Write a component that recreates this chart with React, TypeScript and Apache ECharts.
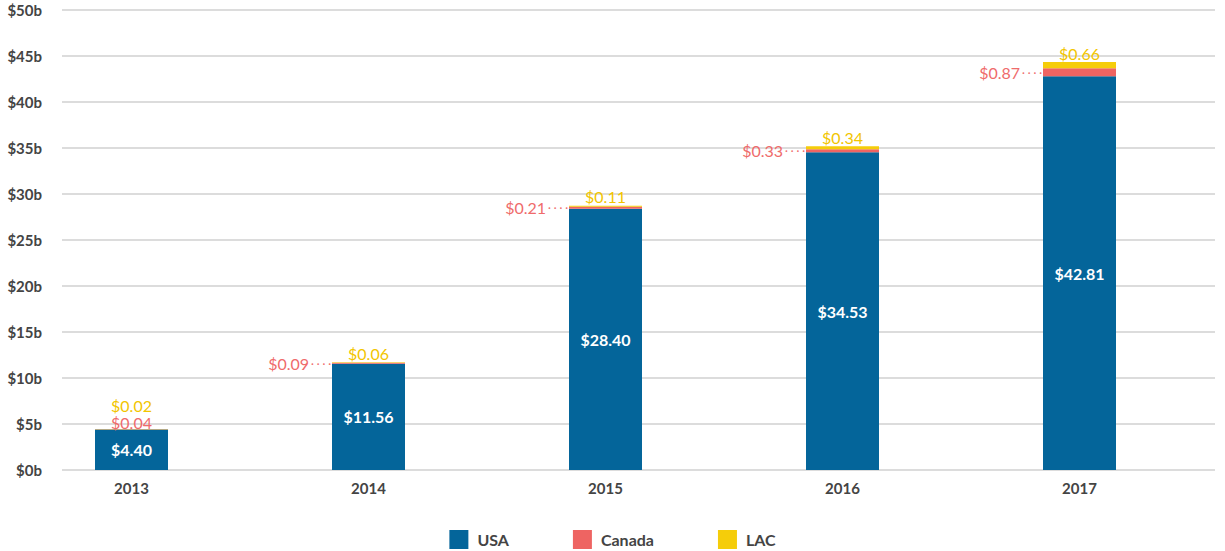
import React, { useEffect, useRef } from "react";
import * as echarts from "echarts";

const years = ["2013", "2014", "2015", "2016", "2017"];
const usa = [4.4, 11.56, 28.4, 34.53, 42.81];
const canada = [0.04, 0.09, 0.21, 0.33, 0.87];
const lac = [0.02, 0.06, 0.11, 0.34, 0.66];
const yTicks = [0, 5, 10, 15, 20, 25, 30, 35, 40, 45, 50];

const BLUE = "#04659A";
const RED = "#EE6462";
const YELLOW = "#F5CD0A";
const RED_TXT = "#EF6B6B";
const YEL_TXT = "#F2C500";
const FONT = "Lato";

export default function App() {
  const ref = useRef<HTMLDivElement>(null);
  useEffect(() => {
    if (!ref.current) return;
    const chart = echarts.init(ref.current, undefined, { renderer: "svg" });
    const fmt = (v: number) => "$" + v.toFixed(2);
    const option = {
      animation: false,
      textStyle: { fontFamily: FONT },
      grid: [
        { left: 62, right: 10, top: 10, bottom: 81 },
        { left: 13, right: 27, top: 10, bottom: 81 },
      ],
      legend: {
        top: 525,
        left: "center",
        icon: "rect",
        itemWidth: 19,
        itemHeight: 19,
        itemGap: 64,
        textStyle: {
          fontFamily: FONT,
          fontSize: 16,
          fontWeight: "bold",
          color: "#444",
          padding: [0, 0, 0, 4],
        },
        data: ["USA", "Canada", "LAC"],
      },
      xAxis: [
        { type: "category", gridIndex: 0, data: years, show: false },
        {
          type: "category",
          gridIndex: 1,
          data: years,
          axisLine: { show: false },
          axisTick: { show: false },
          axisLabel: { margin: 10, fontFamily: FONT, fontSize: 15, fontWeight: "bold", color: "#444" },
        },
      ],
      yAxis: [
        {
          type: "value",
          gridIndex: 0,
          min: yTicks[0],
          max: yTicks[yTicks.length - 1],
          interval: 5,
          axisLine: { show: false },
          axisTick: { show: false },
          axisLabel: {
            margin: 20,
            fontFamily: FONT,
            fontSize: 15,
            fontWeight: "bold",
            color: "#444",
            formatter: (v: number) => "$" + v + "b",
          },
          splitLine: { lineStyle: { color: "#d0d0d0", width: 1.5 } },
        },
        {
          type: "value",
          gridIndex: 1,
          min: 0,
          max: 50,
          show: false,
          splitLine: { show: false },
        },
      ],
      series: [
        {
          name: "USA",
          type: "bar",
          xAxisIndex: 1,
          yAxisIndex: 1,
          stack: "total",
          barWidth: 73,
          itemStyle: { color: BLUE },
          label: {
            show: true,
            position: "inside",
            color: "#fff",
            fontFamily: FONT,
            fontSize: 16,
            fontWeight: "bold",
            formatter: (p: any) => fmt(p.value),
          },
          data: usa,
        },
        {
          name: "Canada",
          type: "bar",
          xAxisIndex: 1,
          yAxisIndex: 1,
          stack: "total",
          barWidth: 73,
          itemStyle: { color: RED },
          label: {
            show: true,
            position: "left",
            distance: 1,
            color: RED_TXT,
            fontFamily: FONT,
            fontSize: 16,
            formatter: (p: any) => "{t|" + fmt(p.value) + "}{d|· · · ·}",
            rich: {
              t: { color: RED_TXT, fontFamily: FONT, fontSize: 16 },
              d: { color: RED_TXT, fontFamily: FONT, fontSize: 11, padding: [0, 0, 0, 2] },
            },
          },
          data: canada.map((v, i) =>
            i === 0
              ? {
                  value: v,
                  label: {
                    position: "top",
                    distance: 0,
                    lineHeight: 14,
                    formatter: (p: any) => fmt(p.value),
                  },
                }
              : v
          ),
        },
        {
          name: "LAC",
          type: "bar",
          xAxisIndex: 1,
          yAxisIndex: 1,
          stack: "total",
          barWidth: 73,
          itemStyle: { color: YELLOW },
          label: {
            show: true,
            position: "top",
            distance: 1,
            color: YEL_TXT,
            fontFamily: FONT,
            fontSize: 16,
            formatter: (p: any) => fmt(p.value),
          },
          data: lac.map((v, i) =>
            i === 0 ? { value: v, label: { distance: 16, lineHeight: 14 } } : v
          ),
        },
      ],
    };
    chart.setOption(option as any);
    return () => chart.dispose();
  }, []);
  return <div ref={ref} style={{ width: 1225, height: 551, position: "absolute", left: 0, top: 0 }} />;
}
